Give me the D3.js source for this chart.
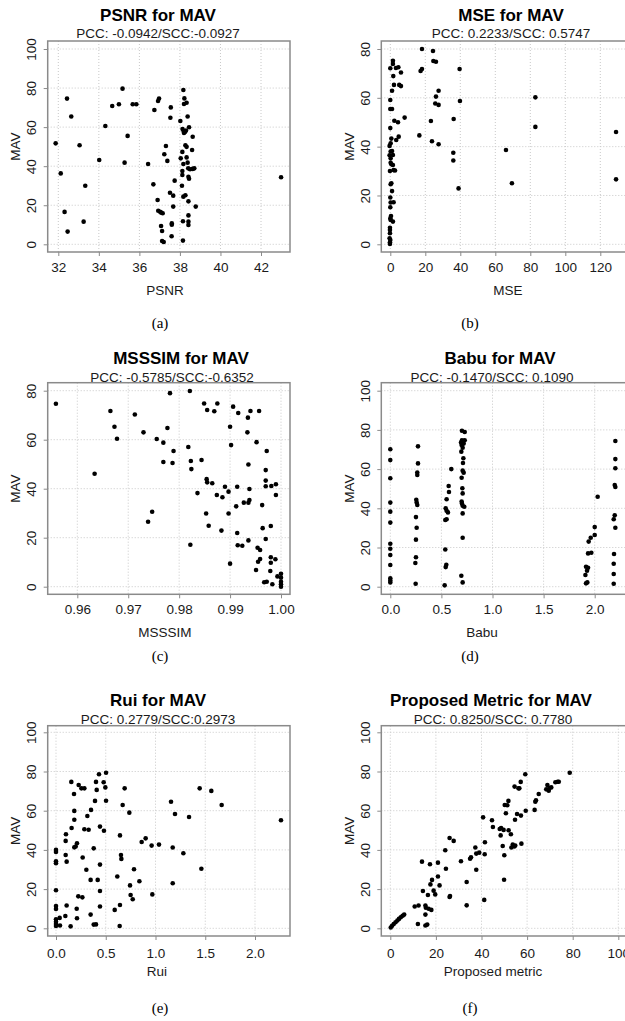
<!DOCTYPE html>
<html>
<head>
<meta charset="utf-8">
<script src="https://cdn.jsdelivr.net/npm/d3@7"></script>
<style>
  body { margin: 0; background: #fff; }
  svg { display: block; }
</style>
</head>
<body>
<svg id="fig" width="625" height="1021"></svg>
<script>
// ---- data: [metric value, MAV] ----
const psnrPts = [[31.87,51.7],[32.12,36.3],[32.43,74.6],[32.31,16.6],[32.46,6.5],[32.64,65.4],[33.05,50.7],[33.33,30.0],[33.25,11.6],[34.02,43.2],[34.32,60.6],[34.66,70.8],[34.99,71.7],[35.17,79.7],[35.42,55.5],[35.27,41.8],[35.67,71.7],[35.85,71.7],[36.43,41.1],[36.69,30.7],[36.74,68.8],[36.92,73.4],[36.97,74.6],[36.90,22.7],[36.93,17.2],[37.02,16.7],[37.08,16.2],[37.15,15.9],[37.07,9.4],[37.12,6.8],[37.12,1.7],[37.20,1.2],[37.31,50.3],[37.23,46.1],[37.38,42.7],[37.53,64.8],[37.55,70.1],[37.51,26.4],[37.67,24.9],[37.74,32.6],[37.67,19.3],[37.60,10.7],[37.60,10.0],[37.59,4.1],[38.02,63.1],[38.13,59.0],[38.18,58.0],[38.25,57.5],[38.30,58.3],[38.20,57.0],[38.17,79.0],[38.22,74.7],[38.20,71.8],[38.33,72.5],[38.38,65.4],[38.45,59.9],[38.63,55.1],[38.27,50.7],[38.33,49.9],[38.12,47.3],[38.60,48.3],[38.04,44.0],[38.33,44.5],[38.17,41.1],[38.38,41.8],[38.41,38.9],[38.50,38.4],[38.63,38.6],[38.71,38.9],[38.12,37.5],[38.12,35.5],[38.42,34.6],[38.45,33.6],[38.10,30.0],[38.17,24.4],[38.27,25.1],[38.42,22.0],[38.78,19.3],[38.42,14.8],[38.15,11.8],[38.42,11.6],[38.42,9.9],[38.15,1.9],[42.99,34.3]];

const msePts = [[0,72.1],[0,59.1],[0,55.4],[1,55.4],[0,47.6],[0.6,43.3],[0.2,41.4],[-0.4,40.3],[0.2,38.0],[1,38.2],[-0.4,36.5],[0.2,35.2],[0.2,33.4],[0.6,32.8],[-0.2,30.0],[0.2,24.6],[0.6,25.0],[0,19.2],[0.2,17.1],[0,15.2],[0.4,11.6],[0,10.6],[0.2,10.0],[-0.2,6.8],[-0.2,5.9],[-0.2,4.5],[-0.4,2.5],[0,1.8],[-0.2,0.8],[-0.2,0.1],[1.5,75.2],[1.5,73.9],[1.7,68.9],[1.0,62.9],[2.1,65.3],[2.3,50.6],[3.2,72.2],[4.6,72.5],[5.1,65.3],[6.1,64.8],[6.1,70.4],[4.4,50.0],[3.4,42.7],[4.8,44.1],[1.5,36.6],[1.5,32.5],[1.9,30.4],[2.7,30.2],[1.0,21.8],[1.9,17.2],[1.5,9.3],[8.2,51.9],[16.6,44.6],[17.3,71.0],[18.1,71.8],[18.1,80.0],[24.4,79.2],[24.6,75.1],[26.1,74.8],[27.6,62.9],[26.1,60.5],[25.7,57.7],[27.6,57.1],[23.2,50.5],[23.8,42.2],[27.6,41.0],[39.6,71.8],[39.8,58.7],[36.2,51.3],[36.0,37.5],[36.0,34.3],[39.0,22.9],[66.1,38.6],[69.5,25.0],[82.9,60.2],[82.9,48.1],[129.0,46.0],[129.0,26.6]];

const msssimPts = [[0.9558,74.7],[0.9634,46.1],[0.9665,71.7],[0.9673,65.3],[0.9678,60.4],[0.9713,70.3],[0.9730,63.0],[0.9739,26.5],[0.9747,30.6],[0.9756,60.3],[0.9769,58.8],[0.9769,50.9],[0.9777,64.8],[0.9782,79.0],[0.9789,55.4],[0.9787,50.5],[0.9818,57.0],[0.9821,79.9],[0.9823,51.3],[0.9824,48.0],[0.9822,17.1],[0.9836,38.2],[0.9844,51.7],[0.9849,74.8],[0.9855,72.1],[0.9869,71.6],[0.9875,74.8],[0.9854,43.9],[0.9855,42.6],[0.9865,42.2],[0.9853,29.9],[0.9858,24.9],[0.9874,37.4],[0.9885,36.5],[0.9890,40.8],[0.9883,22.9],[0.9897,38.8],[0.9897,29.9],[0.9900,9.4],[0.9900,65.3],[0.9902,57.8],[0.9906,73.5],[0.9916,70.9],[0.9912,32.8],[0.9914,40.8],[0.9914,21.9],[0.9915,16.9],[0.9924,16.7],[0.9927,34.3],[0.9935,69.0],[0.9940,71.7],[0.9934,63.0],[0.9936,49.9],[0.9938,39.9],[0.9936,34.3],[0.9938,35.4],[0.9936,18.9],[0.9952,59.0],[0.9957,71.7],[0.9972,55.4],[0.9970,47.6],[0.9970,43.3],[0.9970,41.0],[0.9963,33.3],[0.9964,23.9],[0.9970,19.5],[0.9954,15.9],[0.9959,15.0],[0.9959,11.3],[0.9955,10.2],[0.9951,6.8],[0.9967,1.8],[0.9972,2.0],[0.9980,24.8],[0.9981,41.1],[0.9990,41.8],[0.9990,37.4],[0.9989,11.2],[0.9980,12.0],[0.9980,9.8],[0.9979,6.4],[0.9983,1.0],[0.9993,4.2],[1.0,5.3],[1.0,3.7],[1.0,2.0],[1.0,1.0],[1.0,0.0]];

const babuPts = [[0,70.1],[0,64.6],[0,55.3],[0,42.9],[0,38.3],[0,32.7],[0,21.9],[0,19.4],[0,16.2],[0,11.1],[0,4.3],[0,3.2],[0,2.2],[0.271,71.6],[0.271,62.9],[0.264,58.3],[0.264,57.0],[0.254,44.4],[0.258,43.0],[0.264,41.7],[0.251,35.5],[0.258,30.1],[0.251,24.0],[0.251,15.0],[0.245,12.1],[0.248,1.5],[0.538,19.0],[0.548,11.2],[0.542,10.0],[0.532,0.7],[0.551,44.6],[0.542,40.0],[0.551,38.8],[0.564,37.9],[0.538,34.0],[0.551,34.4],[0.571,51.4],[0.574,48.3],[0.597,60.0],[0.701,79.6],[0.728,78.9],[0.701,74.7],[0.728,74.7],[0.692,73.6],[0.718,73.0],[0.698,72.3],[0.708,70.9],[0.695,68.9],[0.715,65.5],[0.711,63.1],[0.708,59.2],[0.718,58.2],[0.698,55.6],[0.705,50.2],[0.708,47.6],[0.698,43.5],[0.701,42.5],[0.708,41.3],[0.724,40.8],[0.708,37.4],[0.708,25.0],[0.695,5.6],[0.708,2.2],[1.909,6.0],[1.915,1.7],[1.928,2.2],[1.915,10.2],[1.935,9.7],[1.925,8.2],[1.941,23.0],[1.961,25.0],[1.935,17.0],[1.967,17.3],[2.0,26.4],[2.0,30.4],[2.029,45.9],[2.202,74.3],[2.202,65.1],[2.202,60.4],[2.196,51.9],[2.202,50.9],[2.196,36.4],[2.186,34.4],[2.202,30.1],[2.189,16.7],[2.186,11.7],[2.186,6.5],[2.186,1.5]];

const ruiPts = [[0,40.0],[0,38.9],[0,34.2],[0,33.2],[0,19.4],[0,11.4],[0,9.9],[0,4.6],[0,3.4],[0,2.2],[0,1.2],[0.04,1.4],[0.037,5.3],[0.094,6.3],[0.097,37.4],[0.097,44.6],[0.1,48.0],[0.107,34.0],[0.107,11.6],[0.147,1.0],[0.157,51.2],[0.154,74.7],[0.181,68.5],[0.184,59.9],[0.184,55.4],[0.184,41.3],[0.198,41.7],[0.211,43.4],[0.208,10.0],[0.211,5.1],[0.224,16.3],[0.228,73.1],[0.255,71.4],[0.285,71.4],[0.268,36.1],[0.265,15.8],[0.285,50.5],[0.315,57.3],[0.305,29.9],[0.328,50.3],[0.352,60.4],[0.348,24.7],[0.348,7.0],[0.379,1.9],[0.402,2.0],[0.379,40.8],[0.392,65.0],[0.402,74.7],[0.409,70.6],[0.419,24.7],[0.432,78.6],[0.442,51.9],[0.442,32.5],[0.442,19.0],[0.442,11.1],[0.479,74.5],[0.496,71.9],[0.503,79.4],[0.503,65.1],[0.482,49.8],[0.590,9.4],[0.616,26.4],[0.643,47.4],[0.653,37.4],[0.657,35.4],[0.643,11.9],[0.640,1.2],[0.670,62.9],[0.690,71.4],[0.737,59.0],[0.744,21.9],[0.750,17.0],[0.771,14.8],[0.784,30.1],[0.838,24.0],[0.861,44.0],[0.901,45.9],[0.961,42.2],[0.968,17.3],[1.035,42.7],[1.156,64.6],[1.173,41.2],[1.173,23.0],[1.196,58.3],[1.280,38.3],[1.337,56.8],[1.444,71.4],[1.461,30.4],[1.561,70.1],[1.665,62.9],[2.261,55.1]];

const proposedPts = [[0.2,0.4],[0.8,1.3],[1.5,2.2],[2.3,3.1],[3.1,4.0],[3.8,4.8],[4.6,5.6],[5.4,6.4],[6.1,7.0],[10.7,11.1],[12.4,11.6],[12.1,2.2],[13.9,34.0],[14.3,19.0],[15.4,11.6],[15.6,10.5],[15.4,7.0],[15.4,1.4],[16.2,1.9],[16.5,17.0],[16.8,10.0],[17.4,32.7],[17.6,22.4],[18.0,9.4],[18.3,24.7],[19.0,19.2],[19.7,17.3],[20.9,33.5],[20.9,26.4],[21.6,21.9],[24.1,39.8],[24.4,30.4],[26.0,16.0],[26.2,16.5],[26.0,46.1],[27.8,44.6],[31.0,34.2],[33.5,23.6],[33.5,11.7],[35.0,35.5],[35.4,36.2],[37.3,41.2],[37.7,29.9],[37.7,38.1],[39.0,38.6],[40.7,56.6],[41.2,14.5],[41.4,37.8],[41.5,43.9],[44.6,55.1],[45.0,51.7],[48.0,50.7],[48.6,51.2],[48.4,47.4],[49.7,50.2],[49.3,42.0],[50.0,37.3],[49.9,24.8],[50.2,62.9],[50.7,58.7],[51.3,62.8],[51.8,65.0],[51.9,50.0],[52.9,48.0],[53.1,41.2],[53.7,42.7],[54.4,41.7],[54.8,42.2],[54.5,72.3],[54.7,55.4],[55.6,58.3],[56.2,71.4],[56.6,71.4],[57.2,74.7],[57.3,57.5],[57.5,43.2],[59.2,78.6],[59.4,60.0],[63.3,60.4],[63.6,64.6],[63.9,65.3],[65.1,68.5],[68.4,70.9],[68.9,73.1],[69.5,70.2],[69.8,71.6],[70.6,71.9],[72.4,74.5],[73.4,74.8],[73.9,74.8],[78.7,79.4]];

// tick values
const psnrTicks = [32, 34, 36, 38, 40, 42];
const mseTicks = [0, 20, 40, 60, 80, 100, 120];
const msssimTicks = [0.96, 0.97, 0.98, 0.99, 1.00];
const ratioTicks = [0.0, 0.5, 1.0, 1.5, 2.0];
const pctTicks = [0, 20, 40, 60, 80, 100];
const mav100Ticks = [0, 20, 40, 60, 80, 100];
const mav80Ticks = [0, 20, 40, 60, 80];

// layout: plot boxes (right column runs off the page like the original)
const cols = [[47.7, 290], [381.3, 640]];
const rows = [
  { box: [41, 252],      title: 15,  sub: 33,  tick: 267, xlab: 290, cap: 323 },
  { box: [382.7, 594.3], title: 358, sub: 377, tick: 610, xlab: 632, cap: 656 },
  { box: [725.7, 936],   title: 700, sub: 719, tick: 953, xlab: 971, cap: 1008 }
];

const panels = [
  { pts: psnrPts, col: 0, row: 0, title: "PSNR for MAV", sub: "PCC: -0.0942/SCC:-0.0927", xlab: "PSNR",
    tX: 158, sX: 158, lX: 165, cap: "(a)", xt: psnrTicks, yt: mav100Ticks, fmt: d3.format("d"),
    xa: [32, 42], xr: [58.3, 261], ya: [0, 100], yr: [244.3, 49] },
  { pts: msePts, col: 1, row: 0, title: "MSE for MAV", sub: "PCC: 0.2233/SCC: 0.5747", xlab: "MSE",
    tX: 511, sX: 511, lX: 508, cap: "(b)", xt: mseTicks, yt: mav80Ticks, fmt: d3.format("d"),
    xa: [0, 120], xr: [390.3, 600.3], ya: [0, 80], yr: [244.3, 49] },
  { pts: msssimPts, col: 0, row: 1, title: "MSSSIM for MAV", sub: "PCC: -0.5785/SCC:-0.6352", xlab: "MSSSIM",
    tX: 181, sX: 172, lX: 165, cap: "(c)", xt: msssimTicks, yt: mav80Ticks, fmt: d3.format(".2f"),
    xa: [0.96, 1.0], xr: [77.3, 281], ya: [0, 80], yr: [586.7, 390.7] },
  { pts: babuPts, col: 1, row: 1, title: "Babu for MAV", sub: "PCC: -0.1470/SCC: 0.1090", xlab: "Babu",
    tX: 500, sX: 492, lX: 482, cap: "(d)", xt: ratioTicks, yt: mav100Ticks, fmt: d3.format(".1f"),
    xa: [0, 2], xr: [390.3, 594.7], ya: [0, 100], yr: [586.7, 390.7] },
  { pts: ruiPts, col: 0, row: 2, title: "Rui for MAV", sub: "PCC: 0.2779/SCC:0.2973", xlab: "Rui",
    tX: 158, sX: 158, lX: 157, cap: "(e)", xt: ratioTicks, yt: mav100Ticks, fmt: d3.format(".1f"),
    xa: [0, 2], xr: [56, 255], ya: [0, 100], yr: [928.3, 732.3] },
  { pts: proposedPts, col: 1, row: 2, title: "Proposed Metric for MAV", sub: "PCC: 0.8250/SCC: 0.7780", xlab: "Proposed metric",
    tX: 491, sX: 493, lX: 493, cap: "(f)", xt: pctTicks, yt: mav100Ticks, fmt: d3.format("d"),
    xa: [0, 80], xr: [390.3, 572.7], ya: [0, 100], yr: [928.3, 732.3] }
];

const svg = d3.select("#fig");
const sans = "'Liberation Sans', Arial, sans-serif";
const boxColor = "#8a8a8a";
const capX = [160, 470];

panels.forEach(p => {
  const [bx0, bx1] = cols[p.col];
  const R = rows[p.row];
  const [by0, by1] = R.box;
  const x = d3.scaleLinear().domain(p.xa).range(p.xr);
  const y = d3.scaleLinear().domain(p.ya).range(p.yr);
  const g = svg.append("g");

  // dotted grid
  g.append("g").selectAll("line").data(p.xt).enter().append("line")
    .attr("x1", d => x(d)).attr("x2", d => x(d))
    .attr("y1", by0).attr("y2", by1)
    .attr("stroke", "#c8c8c8").attr("stroke-dasharray", "1,2");
  g.append("g").selectAll("line").data(p.yt).enter().append("line")
    .attr("x1", bx0).attr("x2", bx1)
    .attr("y1", d => y(d)).attr("y2", d => y(d))
    .attr("stroke", "#c8c8c8").attr("stroke-dasharray", "1,2");

  // axes
  const xAxis = d3.axisBottom(x).tickValues(p.xt).tickFormat(p.fmt).tickSize(4).tickPadding(4);
  const gx = g.append("g").attr("transform", `translate(0,${by1})`).call(xAxis);
  gx.select(".domain").remove();
  gx.selectAll("line").attr("stroke", boxColor);
  gx.selectAll("text").attr("y", null).attr("dy", null)
    .attr("y", R.tick - by1).attr("dominant-baseline", "central")
    .style("font-family", sans).style("font-size", "13.5px").attr("fill", "#1a1a1a");

  const yAxis = d3.axisLeft(y).tickValues(p.yt).tickFormat(d3.format("d")).tickSize(4);
  const gy = g.append("g").attr("transform", `translate(${bx0},0)`).call(yAxis);
  gy.select(".domain").remove();
  gy.selectAll("line").attr("stroke", boxColor);
  gy.selectAll("text")
    .attr("x", null).attr("dy", "0.35em")
    .attr("transform", "translate(-16,0) rotate(-90)")
    .attr("text-anchor", "middle")
    .style("font-family", sans).style("font-size", "13.5px").attr("fill", "#1a1a1a");

  // box
  g.append("rect")
    .attr("x", bx0).attr("y", by0)
    .attr("width", bx1 - bx0).attr("height", by1 - by0)
    .attr("fill", "none").attr("stroke", boxColor).attr("stroke-width", 1.5);

  // points
  g.append("g").selectAll("circle").data(p.pts).enter().append("circle")
    .attr("cx", d => x(d[0])).attr("cy", d => y(d[1]))
    .attr("r", 2.3).attr("fill", "#000");

  // titles and labels
  g.append("text").attr("x", p.tX).attr("y", R.title).attr("dy", "0.35em")
    .attr("text-anchor", "middle").style("font-family", sans)
    .style("font-size", "17px").style("font-weight", "bold").text(p.title);
  g.append("text").attr("x", p.sX).attr("y", R.sub).attr("dy", "0.35em")
    .attr("text-anchor", "middle").style("font-family", sans)
    .style("font-size", "13.5px").attr("fill", "#1a1a1a").text(p.sub);
  g.append("text").attr("x", p.lX).attr("y", R.xlab).attr("dy", "0.35em")
    .attr("text-anchor", "middle").style("font-family", sans)
    .style("font-size", "13.5px").attr("fill", "#1a1a1a").text(p.xlab);
  g.append("text")
    .attr("transform", `translate(${bx0 - 32},${(by0 + by1) / 2}) rotate(-90)`)
    .attr("dy", "0.35em").attr("text-anchor", "middle").style("font-family", sans)
    .style("font-size", "13.5px").attr("fill", "#1a1a1a").text("MAV");

  // caption
  g.append("text").attr("x", capX[p.col]).attr("y", R.cap).attr("dy", "0.35em")
    .attr("text-anchor", "middle").style("font-family", "'Liberation Serif', 'Times New Roman', serif")
    .style("font-size", "15px").text(p.cap);
});
</script>
</body>
</html>
